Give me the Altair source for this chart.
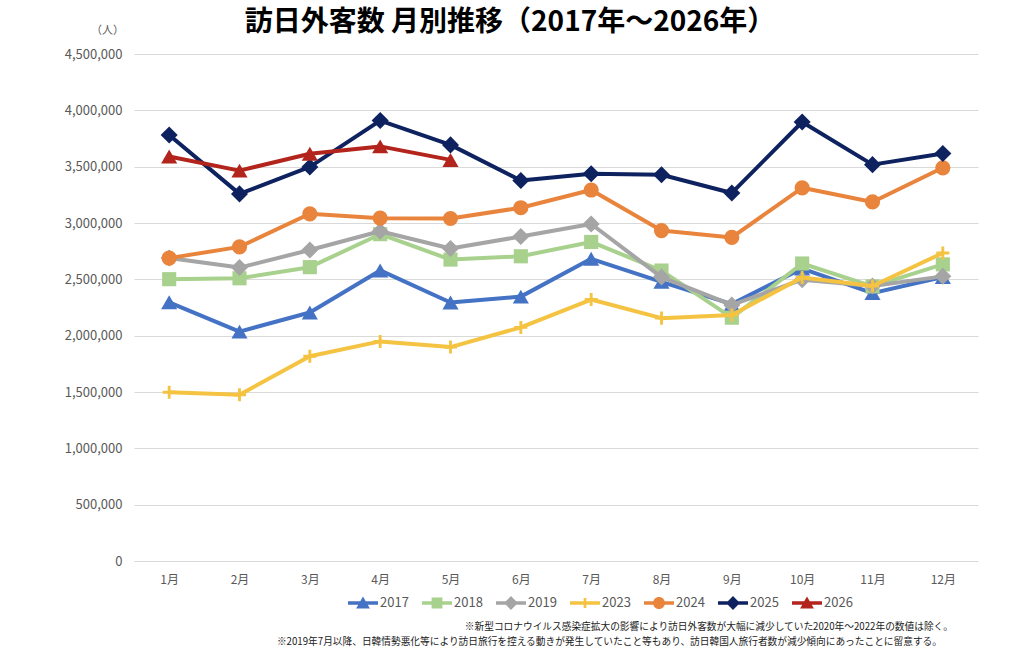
import altair as alt
import pandas as pd

# ---- data -------------------------------------------------------------
months = ["1月", "2月", "3月", "4月", "5月", "6月",
          "7月", "8月", "9月", "10月", "11月", "12月"]
series_names = ["2017", "2018", "2019", "2023", "2024", "2025", "2026"]

v2017 = [2295700, 2035800, 2205700, 2579000, 2294700, 2346600,
         2682100, 2478000, 2280100, 2596000, 2377900, 2521000]
v2018 = [2501400, 2509300, 2608000, 2900700, 2675100, 2704600,
         2832000, 2578000, 2159600, 2640600, 2437400, 2632800]
v2019 = [2689300, 2604300, 2760100, 2926700, 2773100, 2880000,
         2991200, 2520100, 2272900, 2496600, 2441300, 2526400]
v2023 = [1497300, 1475300, 1817500, 1949100, 1898900, 2073300,
         2320600, 2155600, 2183900, 2516500, 2440400, 2734000]
v2024 = [2688100, 2788000, 3081600, 3042900, 3040000, 3135600,
         3292600, 2933000, 2872200, 3312200, 3187000, 3489800]
v2025 = [3781600, 3258400, 3497600, 3908900, 3693300, 3377800,
         3437000, 3428000, 3266800, 3896300, 3518000, 3617700]
v2026 = [3590000, 3465000, 3615000, 3680000, 3560000]

y_ticks = [0, 500000, 1000000, 1500000, 2000000, 2500000,
           3000000, 3500000, 4000000, 4500000]

title_text = "訪日外客数 月別推移（2017年～2026年）"
note1 = "※新型コロナウイルス感染症拡大の影響により訪日外客数が大幅に減少していた2020年～2022年の数値は除く。"
note2 = "※2019年7月以降、日韓情勢悪化等により訪日旅行を控える動きが発生していたこと等もあり、訪日韓国人旅行者数が減少傾向にあったことに留意する。"

series_values = [v2017, v2018, v2019, v2023, v2024, v2025, v2026]

# ---- styling ------------------------------------------------------------
FONT = "Noto Sans CJK JP"
colors = ["#4472C4", "#A9D18E", "#A5A5A5", "#F5C342",
          "#E9843D", "#0E2260", "#B2241C"]

plus_mark = "M-0.22,-1H0.22V-0.22H1V0.22H0.22V1H-0.22V0.22H-1V-0.22H-0.22Z"
marker_shapes = ["triangle-up", "square", "diamond", plus_mark,
                 "circle", "diamond", "triangle-up"]
marker_sizes = [260, 200, 290, 170, 230, 290, 260]

# legend symbols: a short line segment with the series marker on it
bar = "M-1,-0.12H1V0.12H-1Z"
leg_tri = "M0,-0.44L0.46,0.36L-0.46,0.36Z"
leg_sq = "M-0.36,-0.36H0.36V0.36H-0.36Z"
leg_dia = "M0,-0.46L0.46,0L0,0.46L-0.46,0Z"
leg_plus = "M-0.09,-0.34H0.09V-0.09H0.34V0.09H0.09V0.34H-0.09V0.09H-0.34V-0.09H-0.09Z"
leg_circ = "M-0.4,0A0.4,0.4 0 1 1 0.4,0A0.4,0.4 0 1 1 -0.4,0Z"
legend_shapes = [bar + leg_tri, bar + leg_sq, bar + leg_dia, bar + leg_plus,
                 bar + leg_circ, bar + leg_dia, bar + leg_tri]

# ---- table --------------------------------------------------------------
rows = []
for name, vals in zip(series_names, series_values):
    for m, v in zip(months, vals):
        rows.append({"月": m, "年": name, "人数": v})
df = pd.DataFrame(rows)

X = alt.X("月:N", sort=months, scale=alt.Scale(domain=months),
          axis=alt.Axis(title=None, labelAngle=0, ticks=False,
                        domainColor="#D9D9D9", labelPadding=13))
Y = alt.Y("人数:Q", scale=alt.Scale(domain=[0, 4500000], nice=False),
          axis=alt.Axis(values=y_ticks, format=",d", title="（人）",
                        titleAngle=0, titleX=-27, titleY=-24,
                        titleAlign="center", titleBaseline="middle",
                        titleFontSize=11, titleFontWeight="normal",
                        titleColor="#595959", domain=False, ticks=False,
                        labelPadding=12, gridColor="#D9D9D9"))
color_scale = alt.Scale(domain=series_names, range=colors)
shape_scale = alt.Scale(domain=series_names, range=marker_shapes)

layers = []
for name, size in zip(series_names, marker_sizes):
    base = alt.Chart(df[df["年"] == name])
    line = base.mark_line(strokeWidth=4, strokeJoin="round").encode(
        x=X, y=Y, color=alt.Color("年:N", scale=color_scale, legend=None))
    pts = base.mark_point(filled=True, size=size, opacity=1, strokeWidth=0).encode(
        x=X, y=Y,
        color=alt.Color("年:N", scale=color_scale, legend=None),
        shape=alt.Shape("年:N", scale=shape_scale, legend=None))
    layers += [line, pts]

# legend-only layer: rows have no value so nothing is plotted
legend_df = pd.DataFrame({"月": ["1月"] * len(series_names),
                          "年": series_names,
                          "人数": [None] * len(series_names)})
legend_layer = alt.Chart(legend_df).mark_point(filled=True, opacity=1).encode(
    x=X, y=alt.Y("人数:Q"),
    color=alt.Color("年:N", scale=alt.Scale(domain=series_names, range=colors),
                    legend=alt.Legend(title=None, orient="none", legendX=214,
                                      legendY=534, direction="horizontal",
                                      columns=7, symbolSize=900,
                                      symbolStrokeWidth=0, symbolOpacity=1,
                                      labelFontSize=13, labelColor="#595959",
                                      labelFont=FONT, labelOffset=2,
                                      columnPadding=13, padding=0)),
    shape=alt.Shape("年:N", scale=alt.Scale(domain=series_names,
                                            range=legend_shapes)))

def text_layer(txt, x, y, size, weight="normal", align="center", color="#000000"):
    return alt.Chart(pd.DataFrame({"t": [txt]})).mark_text(
        font=FONT, fontSize=size, fontWeight=weight, align=align,
        baseline="middle", color=color).encode(
        text="t:N", x=alt.value(x), y=alt.value(y))

title_layer = text_layer(title_text, 376, -31, 28, weight="bold")
note1_layer = text_layer(note1, 819, 573, 9.7, align="right", color="#1A1A1A")
note2_layer = text_layer(note2, 808, 588, 9.7, align="right", color="#1A1A1A")

chart = alt.layer(*layers, legend_layer, title_layer, note1_layer, note2_layer).resolve_scale(
    color="independent", shape="independent"
).properties(
    width=844, height=507,
    autosize=alt.AutoSizeParams(type="none"),
    padding={"left": 134, "top": 54, "right": 46, "bottom": 92},
    background="white",
).configure_view(stroke=None).configure_axis(
    labelFont=FONT, titleFont=FONT, labelFontSize=13, labelColor="#595959"
).configure_axisX(labelFontSize=12)

chart.save("out.html", embed_options={"renderer": "svg", "actions": False})
